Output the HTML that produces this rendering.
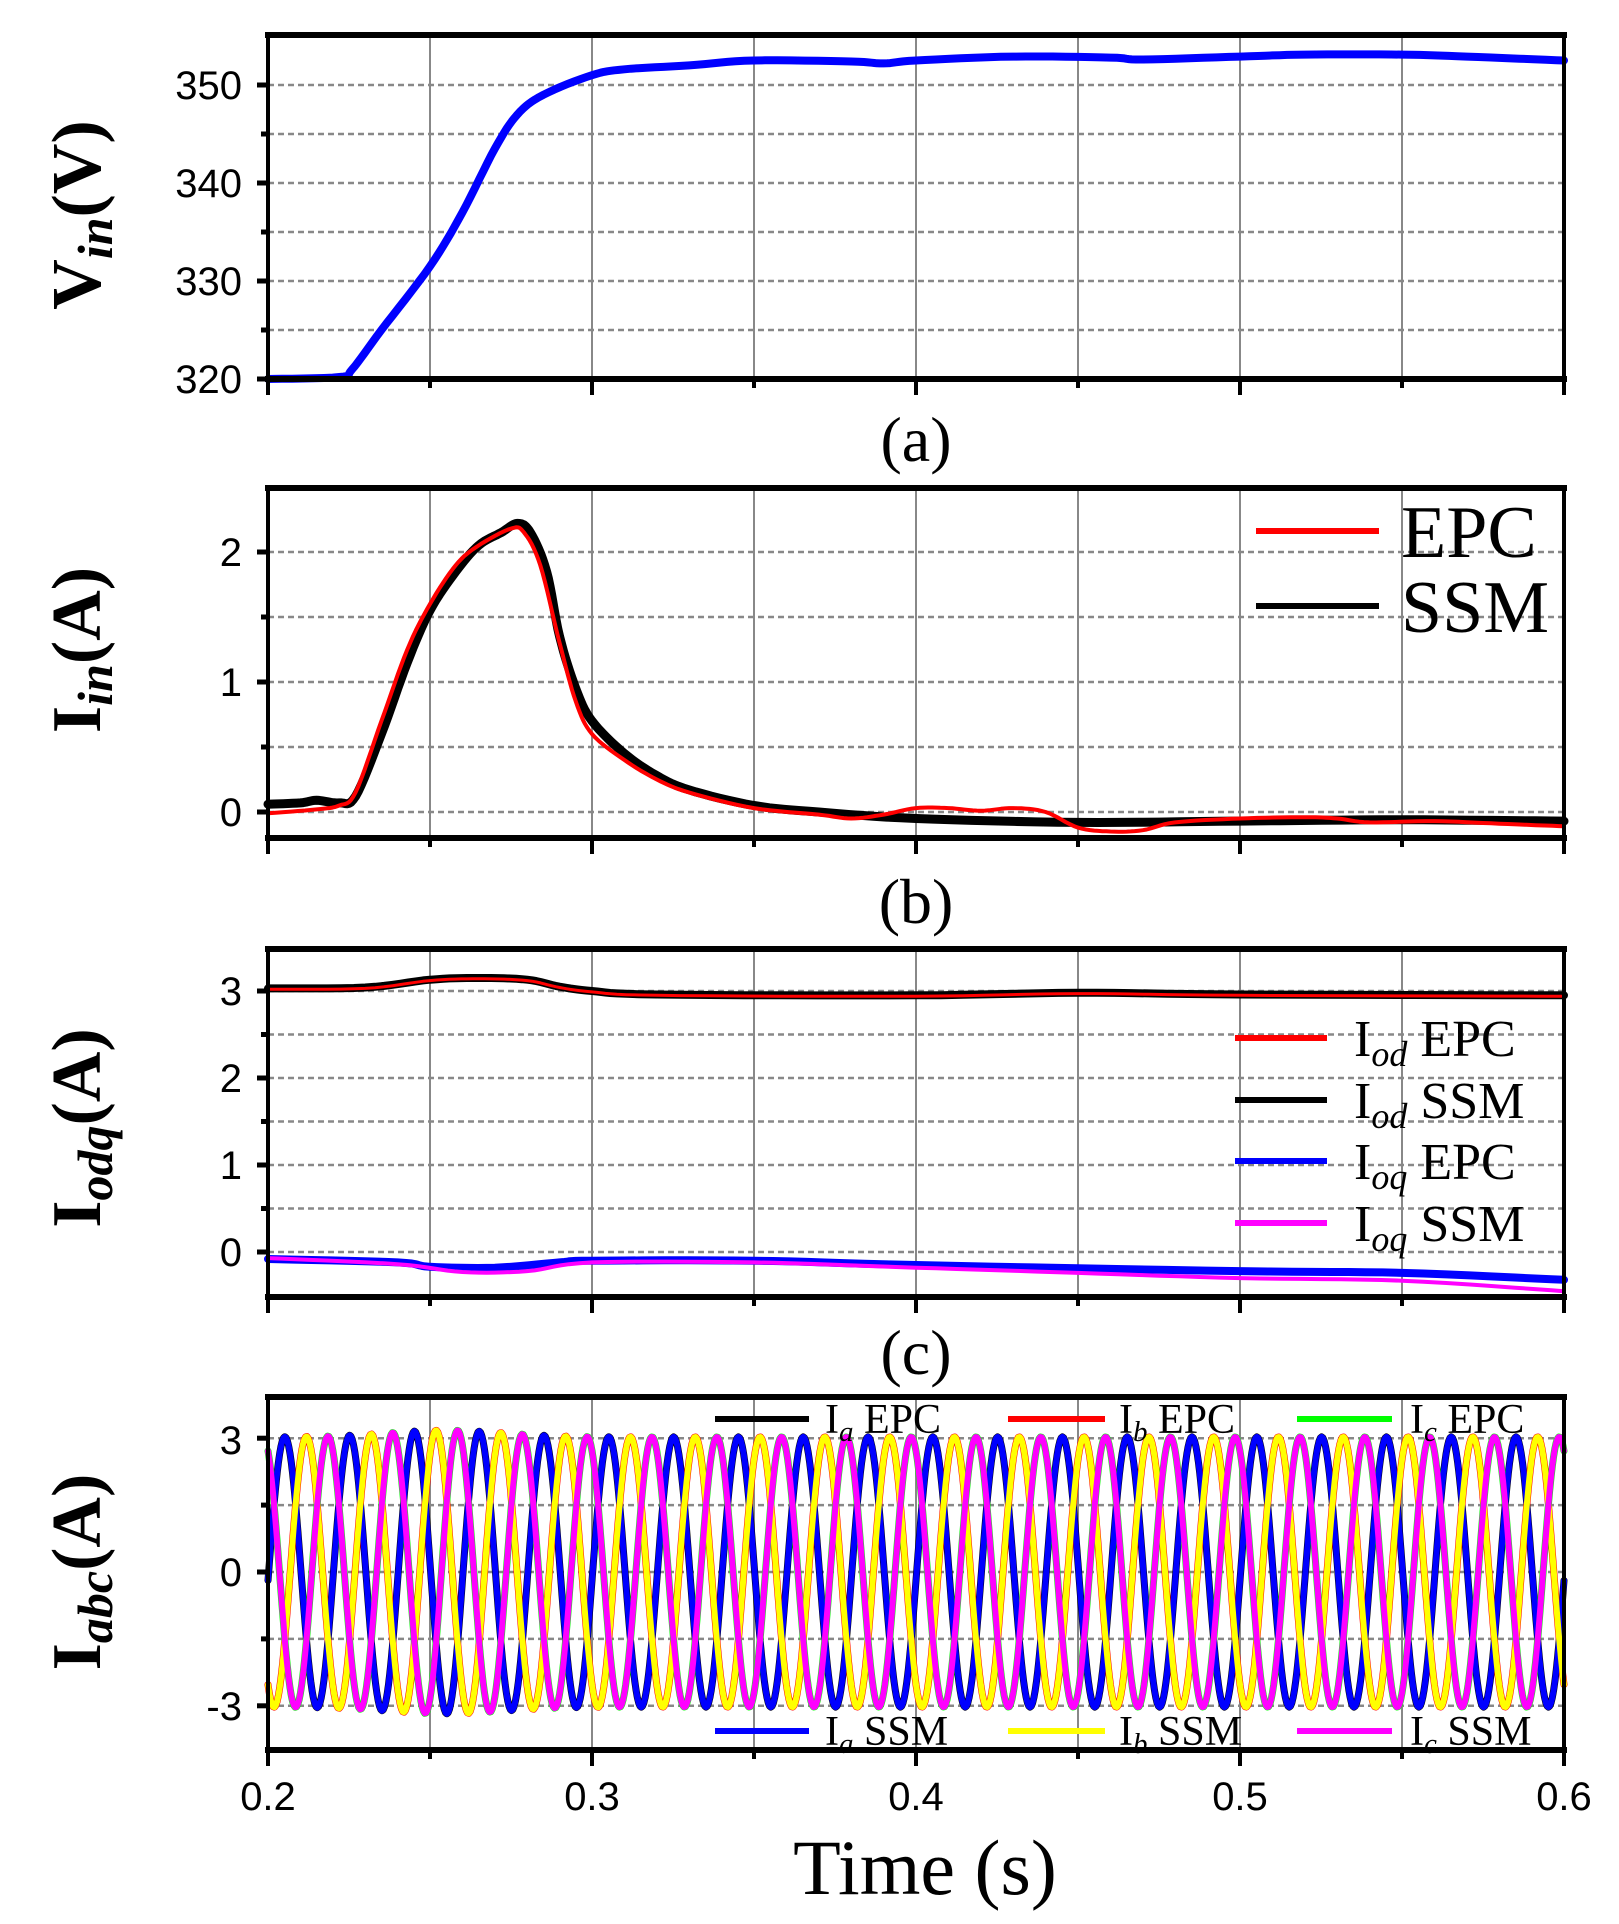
<!DOCTYPE html>
<html><head><meta charset="utf-8"><style>
html,body{margin:0;padding:0;background:#fff}
svg{display:block}
.tk{font-family:"Liberation Sans",sans-serif;font-size:40px;fill:#000}
.lg{font-family:"Liberation Serif",serif;fill:#000}
.yl{font-family:"Liberation Serif",serif;font-weight:bold;font-size:70px;fill:#000}
</style></head><body>
<svg id="s" width="1619" height="1924" viewBox="0 0 1619 1924" xmlns="http://www.w3.org/2000/svg">
<g id="grid"></g>
<g id="data"></g>
<g id="frame"></g>
<g class="tk" text-anchor="end">
<text x="242" y="99">350</text><text x="242" y="197">340</text><text x="242" y="295">330</text><text x="242" y="393">320</text>
<text x="242" y="566">2</text><text x="242" y="696">1</text><text x="242" y="826">0</text>
<text x="242" y="1005">3</text><text x="242" y="1092">2</text><text x="242" y="1179">1</text><text x="242" y="1266">0</text>
<text x="242" y="1454">3</text><text x="242" y="1586">0</text><text x="242" y="1720">-3</text>
</g>
<g class="tk" text-anchor="middle">
<text x="268" y="1810">0.2</text><text x="592" y="1810">0.3</text><text x="916" y="1810">0.4</text><text x="1240" y="1810">0.5</text><text x="1564" y="1810">0.6</text>
</g>
<g class="lg" font-size="64" text-anchor="middle">
<text x="916" y="461">(a)</text><text x="916" y="923">(b)</text><text x="916" y="1374">(c)</text>
<text x="925" y="1894" font-size="78">Time (s)</text>
</g>
<text class="yl" transform="translate(100,215) rotate(-90)" text-anchor="middle">V<tspan font-style="italic" font-size="50" dy="12">in</tspan><tspan dy="-12">(V)</tspan></text>
<text class="yl" transform="translate(100,650) rotate(-90)" text-anchor="middle">I<tspan font-style="italic" font-size="50" dy="12">in</tspan><tspan dy="-12">(A)</tspan></text>
<text class="yl" transform="translate(100,1128) rotate(-90)" text-anchor="middle">I<tspan font-style="italic" font-size="50" dy="12">odq</tspan><tspan dy="-12">(A)</tspan></text>
<text class="yl" transform="translate(100,1572) rotate(-90)" text-anchor="middle">I<tspan font-style="italic" font-size="50" dy="12">abc</tspan><tspan dy="-12">(A)</tspan></text>
<line x1="1256" y1="531" x2="1379" y2="531" stroke="#f00" stroke-width="6"/>
<line x1="1256" y1="606" x2="1379" y2="606" stroke="#000" stroke-width="6"/>
<g class="lg" font-size="74"><text x="1401" y="557">EPC</text><text x="1401" y="632">SSM</text></g>
<line x1="1235" y1="1038" x2="1327" y2="1038" stroke="#f00" stroke-width="6"/>
<line x1="1235" y1="1100" x2="1327" y2="1100" stroke="#000" stroke-width="6"/>
<line x1="1235" y1="1161" x2="1327" y2="1161" stroke="#00f" stroke-width="6"/>
<line x1="1235" y1="1223" x2="1327" y2="1223" stroke="#f0f" stroke-width="6"/>
<g class="lg" font-size="52">
<text x="1354" y="1056">I<tspan font-style="italic" font-size="36" dy="10">od</tspan><tspan dy="-10"> EPC</tspan></text>
<text x="1354" y="1118">I<tspan font-style="italic" font-size="36" dy="10">od</tspan><tspan dy="-10"> SSM</tspan></text>
<text x="1354" y="1179">I<tspan font-style="italic" font-size="36" dy="10">oq</tspan><tspan dy="-10"> EPC</tspan></text>
<text x="1354" y="1241">I<tspan font-style="italic" font-size="36" dy="10">oq</tspan><tspan dy="-10"> SSM</tspan></text>
</g>
<g id="legd">
<line x1="715" y1="1419" x2="809" y2="1419" stroke="#000" stroke-width="6"/>
<line x1="1008" y1="1419" x2="1105" y2="1419" stroke="#f00" stroke-width="6"/>
<line x1="1297" y1="1419" x2="1392" y2="1419" stroke="#0f0" stroke-width="6"/>
<line x1="715" y1="1731" x2="809" y2="1731" stroke="#00f" stroke-width="6"/>
<line x1="1008" y1="1731" x2="1105" y2="1731" stroke="#ff0" stroke-width="6"/>
<line x1="1297" y1="1731" x2="1392" y2="1731" stroke="#f0f" stroke-width="6"/>
<g class="lg" font-size="42">
<text x="825" y="1433">I<tspan font-style="italic" font-size="29" dy="8">a</tspan><tspan dy="-8"> EPC</tspan></text>
<text x="1119" y="1433">I<tspan font-style="italic" font-size="29" dy="8">b</tspan><tspan dy="-8"> EPC</tspan></text>
<text x="1410" y="1433">I<tspan font-style="italic" font-size="29" dy="8">c</tspan><tspan dy="-8"> EPC</tspan></text>
<text x="825" y="1745">I<tspan font-style="italic" font-size="29" dy="8">a</tspan><tspan dy="-8"> SSM</tspan></text>
<text x="1119" y="1745">I<tspan font-style="italic" font-size="29" dy="8">b</tspan><tspan dy="-8"> SSM</tspan></text>
<text x="1410" y="1745">I<tspan font-style="italic" font-size="29" dy="8">c</tspan><tspan dy="-8"> SSM</tspan></text>
</g></g>
</svg>
<script>
var NS="http://www.w3.org/2000/svg";
function el(p,t,a){var e=document.createElementNS(NS,t);for(var k in a)e.setAttribute(k,a[k]);p.appendChild(e);return e;}
var X0=268,X1=1564;function X(t){return X0+(t-0.2)/0.4*(X1-X0);}
var grid=document.getElementById('grid'),data=document.getElementById('data'),frame=document.getElementById('frame');
var P=[
 {top:35,bot:379,y:function(v){return 379-(v-320)*9.8},grid:[325,330,335,340,345,350],maj:[320,330,340,350],min:[325,335,345]},
 {top:488,bot:838,y:function(v){return 812-v*130},grid:[0,0.5,1,1.5,2],maj:[0,1,2],min:[0.5,1.5]},
 {top:949,bot:1297,y:function(v){return 1252-v*87},grid:[0,0.5,1,1.5,2,2.5,3],maj:[0,1,2,3],min:[0.5,1.5,2.5]},
 {top:1397,bot:1750,y:function(v){return 1572-v*44.6},grid:[-3,-1.5,0,1.5,3],maj:[-3,0,3],min:[-1.5,1.5]}
];
P.forEach(function(p){
 for(var i=1;i<8;i++){var x=X(0.2+i*0.05);el(grid,'line',{x1:x,y1:p.top,x2:x,y2:p.bot,stroke:'#888','stroke-width':2});}
 p.grid.forEach(function(v){var y=p.y(v);el(grid,'line',{x1:X0,y1:y,x2:X1,y2:y,stroke:'#888','stroke-width':2.5,'stroke-dasharray':'6,4'});});
 el(frame,'line',{x1:X0-3,y1:p.top,x2:X1+3,y2:p.top,stroke:'#000','stroke-width':6});
 el(frame,'line',{x1:X0-3,y1:p.bot,x2:X1+3,y2:p.bot,stroke:'#000','stroke-width':6});
 el(frame,'line',{x1:X0,y1:p.top,x2:X0,y2:p.bot,stroke:'#000','stroke-width':4});
 el(frame,'line',{x1:X1,y1:p.top,x2:X1,y2:p.bot,stroke:'#000','stroke-width':4});
 p.maj.forEach(function(v){var y=p.y(v);el(frame,'line',{x1:X0-11,y1:y,x2:X0,y2:y,stroke:'#000','stroke-width':5});});
 p.min.forEach(function(v){var y=p.y(v);el(frame,'line',{x1:X0-7,y1:y,x2:X0,y2:y,stroke:'#000','stroke-width':5});});
 for(var i=0;i<=8;i++){var x=X(0.2+i*0.05);el(frame,'line',{x1:x,y1:p.bot,x2:x,y2:p.bot+(i%2==0?16:9),stroke:'#000','stroke-width':4});}
});
function smooth(pts){var o=[];for(var i=0;i<pts.length-1;i++){var p0=pts[Math.max(0,i-1)],p1=pts[i],p2=pts[i+1],p3=pts[Math.min(pts.length-1,i+2)];
 for(var s=0;s<8;s++){var u=s/8,u2=u*u,u3=u2*u;var f=function(a,b,c,d){return 0.5*(2*b+(-a+c)*u+(2*a-5*b+4*c-d)*u2+(-a+3*b-3*c+d)*u3)};o.push([f(p0[0],p1[0],p2[0],p3[0]),f(p0[1],p1[1],p2[1],p3[1])]);}}
 o.push(pts[pts.length-1]);return o;}
function pl(pts,p,col,w,sm){if(sm)pts=smooth(pts);var d='';pts.forEach(function(q,i){d+=(i?'L':'M')+X(q[0]).toFixed(1)+','+p.y(q[1]).toFixed(1);});
 el(data,'path',{d:d,fill:'none',stroke:col,'stroke-width':w,'stroke-linejoin':'round','stroke-linecap':'round'});}
pl([[0.2,320],[0.222,320.2],[0.226,321],[0.235,325],[0.25,331.5],[0.26,337],[0.27,343.5],[0.277,347],[0.285,349],[0.3,351],[0.31,351.6],[0.33,352],[0.35,352.5],[0.38,352.4],[0.39,352.2],[0.4,352.5],[0.43,352.9],[0.46,352.8],[0.47,352.6],[0.5,352.9],[0.52,353.1],[0.55,353.1],[0.57,352.9],[0.6,352.5]],P[0],'#00f',8,1);
pl([[0.2,0.06],[0.21,0.07],[0.215,0.09],[0.222,0.07],[0.227,0.12],[0.235,0.6],[0.243,1.15],[0.25,1.55],[0.258,1.85],[0.265,2.05],[0.272,2.15],[0.277,2.22],[0.281,2.15],[0.286,1.85],[0.29,1.35],[0.295,0.95],[0.3,0.7],[0.31,0.45],[0.32,0.28],[0.33,0.17],[0.35,0.05],[0.37,0.0],[0.4,-0.05],[0.45,-0.08],[0.5,-0.07],[0.55,-0.06],[0.6,-0.07]],P[1],'#000',9,1);
pl([[0.2,-0.01],[0.215,0.02],[0.222,0.05],[0.227,0.15],[0.235,0.7],[0.243,1.25],[0.25,1.6],[0.258,1.9],[0.265,2.05],[0.275,2.18],[0.279,2.15],[0.284,1.9],[0.29,1.3],[0.295,0.85],[0.3,0.6],[0.31,0.4],[0.32,0.25],[0.33,0.15],[0.35,0.03],[0.37,-0.02],[0.38,-0.05],[0.39,-0.02],[0.4,0.03],[0.41,0.03],[0.42,0.01],[0.43,0.03],[0.44,0.0],[0.45,-0.12],[0.46,-0.15],[0.47,-0.14],[0.48,-0.08],[0.5,-0.05],[0.52,-0.04],[0.53,-0.05],[0.54,-0.08],[0.56,-0.07],[0.58,-0.09],[0.6,-0.11]],P[1],'#f00',4,1);
var iod=[[0.2,3.03],[0.23,3.04],[0.25,3.13],[0.265,3.15],[0.28,3.13],[0.29,3.05],[0.3,3.0],[0.32,2.96],[0.4,2.95],[0.45,2.98],[0.5,2.96],[0.6,2.95]];
pl(iod,P[2],'#000',8,1);pl(iod.map(function(q){return[q[0],q[1]-0.01]}),P[2],'#f00',3,1);
pl([[0.2,-0.08],[0.24,-0.12],[0.25,-0.17],[0.27,-0.18],[0.29,-0.12],[0.3,-0.1],[0.35,-0.1],[0.4,-0.15],[0.5,-0.22],[0.55,-0.24],[0.6,-0.32]],P[2],'#00f',8,1);
pl([[0.2,-0.07],[0.24,-0.14],[0.26,-0.23],[0.28,-0.22],[0.3,-0.12],[0.35,-0.12],[0.4,-0.18],[0.45,-0.24],[0.5,-0.3],[0.55,-0.33],[0.6,-0.45]],P[2],'#f0f',4,1);
function wave(ph){var a=[];for(var t=0.2;t<=0.6001;t+=0.0004){var A=3.03+0.15*Math.exp(-Math.pow((t-0.255)/0.025,2));a.push([t,A*Math.cos(2*Math.PI*50*(t-0.2052)-ph)]);}return a;}
var tp=2*Math.PI/3;
pl(wave(0),P[3],'#000',7);pl(wave(tp),P[3],'#f00',7);pl(wave(2*tp),P[3],'#0f0',7);
pl(wave(0),P[3],'#00f',6);pl(wave(tp),P[3],'#ff0',6);pl(wave(2*tp),P[3],'#f0f',6);
</script>
</body></html>
